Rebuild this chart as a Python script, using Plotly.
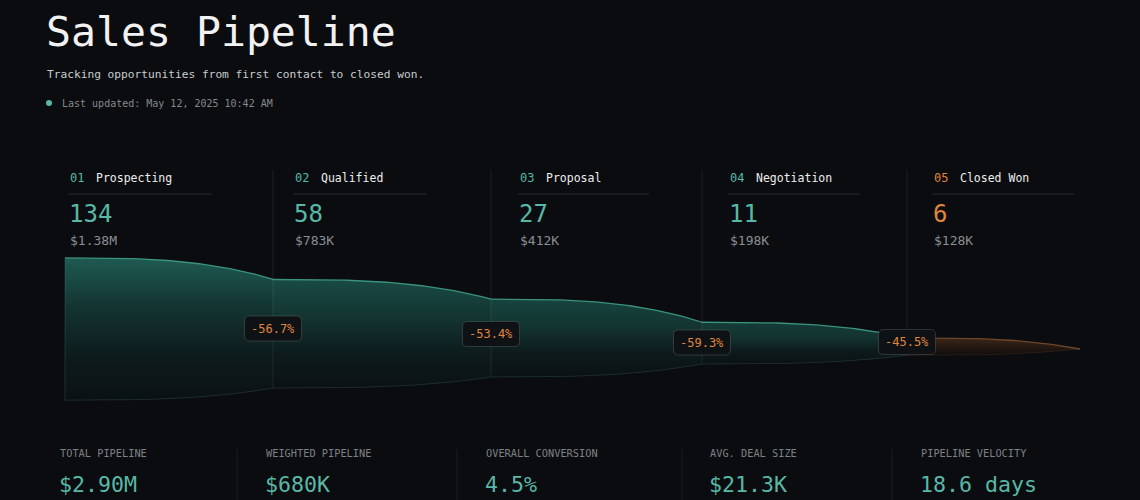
import numpy as np
import plotly.graph_objects as go

# ---------------- data ----------------
stage_nums = ["01", "02", "03", "04", "05"]
stages = ["Prospecting", "Qualified", "Proposal", "Negotiation", "Closed Won"]
counts = [134, 58, 27, 11, 6]
stage_values = ["$1.38M", "$783K", "$412K", "$198K", "$128K"]
kpi_labels = ["TOTAL PIPELINE", "WEIGHTED PIPELINE", "OVERALL CONVERSION", "AVG. DEAL SIZE", "PIPELINE VELOCITY"]
kpi_values = ["$2.90M", "$680K", "4.5%", "$21.3K", "18.6 days"]

# ---------------- layout constants ----------------
W, H = 1140, 500
BG = "#0a0c0f"
TEAL = "#58b8a6"
ORANGE = "#e0843f"
MONO = "DejaVu Sans Mono"

bounds = [65, 273, 491, 702, 907, 1080]      # stage column edges (px)
axis_y = 349                                  # funnel anchor line
up_frac = 0.64                                # share of band above anchor
col_x = [68, 293, 518, 728, 932]
rule_end = [212, 427, 649, 860, 1074]
label_y = [328.5, 334, 342.5, 342]
kpi_x = [58, 264, 484, 708, 919]
kpi_div = [237, 457, 682, 892]

# band height from log of counts
hgt = [40.2 * np.log(c) - 54.6 for c in counts]
tops = [axis_y - up_frac * h for h in hgt] + [axis_y]
bots = [axis_y + (1 - up_frac) * h for h in hgt] + [axis_y]

fig = go.Figure()

top_cols = ["#1e5a51", "#194a44", "#17443e", "#143b37"]
t = np.linspace(0, 1, 80)
ease = t ** 3
for i in range(5):
    xs = bounds[i] + (bounds[i + 1] - bounds[i]) * t
    yt = tops[i] + (tops[i + 1] - tops[i]) * ease
    yb = bots[i] + (bots[i + 1] - bots[i]) * ease
    if i < 4:
        cs = [[0, top_cols[i]], [0.35, "#133431"], [0.7, "#0d1a1c"], [1, "#0b1113"]]
        line_c = "#3a937f"
        bot_c = "rgba(80,150,135,0.22)"
    else:
        cs = [[0, "#3b2619"], [1, "#100d0c"]]
        line_c = "#6e4629"
        bot_c = "rgba(150,95,55,0.18)"
    fig.add_trace(go.Scatter(
        x=np.concatenate([xs, xs[::-1]]), y=np.concatenate([yt, yb[::-1]]),
        mode="lines", fill="toself", line=dict(width=0),
        fillgradient=dict(type="vertical", colorscale=cs, start=tops[i], stop=bots[i]),
        hoverinfo="skip", showlegend=False))
    fig.add_trace(go.Scatter(x=xs, y=yt, mode="lines", line=dict(color=line_c, width=1.3),
                             hoverinfo="skip", showlegend=False))
    fig.add_trace(go.Scatter(x=xs, y=yb, mode="lines", line=dict(color=bot_c, width=1),
                             hoverinfo="skip", showlegend=False))

shapes = []
# left funnel edge
shapes.append(dict(type="line", x0=bounds[0], x1=bounds[0], y0=tops[0], y1=bots[0],
                   line=dict(color="rgba(80,150,135,0.25)", width=1), layer="above"))
# column dividers
for i in range(1, 5):
    shapes.append(dict(type="line", x0=bounds[i], x1=bounds[i], y0=170, y1=bots[i],
                       line=dict(color="rgba(255,255,255,0.08)", width=1), layer="above"))
# header rules
for i in range(5):
    shapes.append(dict(type="line", x0=col_x[i], x1=rule_end[i], y0=194, y1=194,
                       line=dict(color="rgba(255,255,255,0.12)", width=1), layer="above"))
# KPI dividers
for x in kpi_div:
    shapes.append(dict(type="line", x0=x, x1=x, y0=449, y1=500,
                       line=dict(color="rgba(255,255,255,0.07)", width=1), layer="above"))
# status dot
shapes.append(dict(type="circle", x0=46, x1=52, y0=100, y1=106, fillcolor=TEAL,
                   line=dict(width=0), layer="above"))


def rrect(cx, cy, w, h, r):
    x0, x1, y0, y1 = cx - w / 2, cx + w / 2, cy - h / 2, cy + h / 2
    return (f"M{x0+r},{y0} L{x1-r},{y0} Q{x1},{y0} {x1},{y0+r} L{x1},{y1-r} "
            f"Q{x1},{y1} {x1-r},{y1} L{x0+r},{y1} Q{x0},{y1} {x0},{y1-r} "
            f"L{x0},{y0+r} Q{x0},{y0} {x0+r},{y0} Z")


ann = []
# conversion labels
for i in range(4):
    conv = (counts[i + 1] / counts[i] - 1) * 100
    shapes.append(dict(type="path", path=rrect(bounds[i + 1], label_y[i], 57, 25, 5),
                       fillcolor="#0e1215", line=dict(color="rgba(255,255,255,0.14)", width=1),
                       layer="above"))
    ann.append(dict(x=bounds[i + 1], y=label_y[i], text=f"{conv:.1f}%", showarrow=False,
                    xanchor="center", yanchor="middle",
                    font=dict(family=MONO, size=12, color=ORANGE)))

# title block
ann.append(dict(x=44, y=31, text="Sales Pipeline", showarrow=False, xanchor="left", yanchor="middle",
                font=dict(family=MONO, size=41.5, color="#f2f2f2")))
ann.append(dict(x=45, y=74, text="Tracking opportunities from first contact to closed won.",
                showarrow=False, xanchor="left", yanchor="middle",
                font=dict(family=MONO, size=11.2, color="#c9cccf")))
ann.append(dict(x=60, y=103, text="Last updated: May 12, 2025 10:42 AM", showarrow=False,
                xanchor="left", yanchor="middle", font=dict(family=MONO, size=10, color="#85898e")))

# stage headers
for i in range(5):
    accent = ORANGE if i == 4 else TEAL
    ann.append(dict(x=col_x[i], y=178, text=stage_nums[i], showarrow=False, xanchor="left",
                    yanchor="middle", font=dict(family=MONO, size=12, color=accent)))
    ann.append(dict(x=col_x[i] + 26, y=178, text=stages[i], showarrow=False, xanchor="left",
                    yanchor="middle", font=dict(family=MONO, size=11.5, color="#eeeeee")))
    ann.append(dict(x=col_x[i] - 1, y=214, text=str(counts[i]), showarrow=False, xanchor="left",
                    yanchor="middle", font=dict(family=MONO, size=24, color=accent)))
    ann.append(dict(x=col_x[i], y=240, text=stage_values[i], showarrow=False, xanchor="left",
                    yanchor="middle", font=dict(family=MONO, size=13, color="#8a8e93")))

# KPI row
for i in range(5):
    ann.append(dict(x=kpi_x[i], y=453, text=kpi_labels[i], showarrow=False, xanchor="left",
                    yanchor="middle", font=dict(family=MONO, size=10.3, color="#7d8186")))
    ann.append(dict(x=kpi_x[i] - 1, y=484, text=kpi_values[i], showarrow=False, xanchor="left",
                    yanchor="middle", font=dict(family=MONO, size=21.6, color=TEAL)))

fig.update_layout(
    width=W, height=H, margin=dict(l=0, r=0, t=0, b=0),
    paper_bgcolor=BG, plot_bgcolor=BG,
    xaxis=dict(range=[0, W], visible=False, fixedrange=True),
    yaxis=dict(range=[H, 0], visible=False, fixedrange=True),
    shapes=shapes, annotations=ann, showlegend=False,
)
fig.write_html("out.html", config={"displayModeBar": False})
